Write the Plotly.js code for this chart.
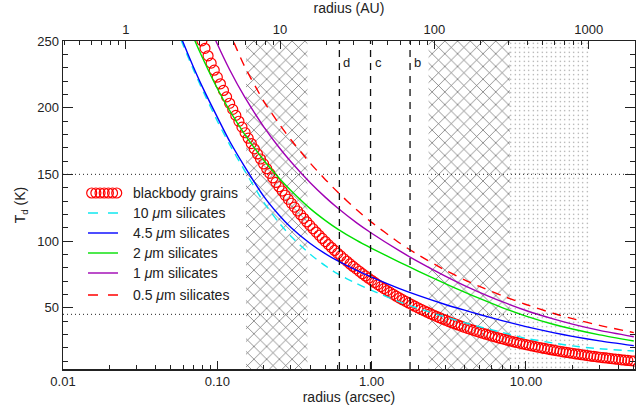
<!DOCTYPE html>
<html><head><meta charset="utf-8">
<script src="https://cdn.plot.ly/plotly-3.0.1.min.js"></script>
<style>html,body{margin:0;padding:0;background:#fff}#chart{width:636px;height:414px}</style>
</head><body><div id="chart"></div>
<script>
// ---- data ----
const radius   = [0.05,0.06,0.07,0.08,0.1,0.12,0.15,0.2,0.25,0.3,0.4,0.5,0.6,0.8,1,1.5,2,3,4,5,7,10,15,20,30,50];
const sil10um  = [270,247,228.5,213.5,190,172.5,153,129,114,103.5,90,81.5,75.5,68,63,54.5,49.5,43,38.8,35.7,31.5,27,23.5,21.3,19.2,17.5];
const sil4p5um = [272.8,249,230.5,215.6,192.9,175,156,133.5,119.7,110.1,98.1,90.5,85.2,77.9,72.9,64.5,59.2,52.4,48.1,44.9,40.3,35.8,31.3,28.5,25.1,21.5];
const sil2um   = [296.4,272,252.8,237.6,214.4,197.9,180.2,160.6,147.5,137.9,124.3,115.5,109.1,100.4,94.5,84.4,77.4,68,61.7,56.9,50.1,43.7,37.6,34,29.6,25];
const sil1um   = [345.5,315,292,273.9,247.7,228.6,208.2,185.6,170.5,159.4,143.7,132.9,124.9,113.6,105.8,92.9,84.5,73.6,66.5,61.5,54.5,47.9,41.6,37.7,33,28.2];
const sil0p5um = [397.2,362.6,335.7,314,281,256.6,231.1,204.8,188.2,175.9,158.4,146.2,136.9,123.4,114,98.9,89.6,78.1,70.9,65.9,59,52.4,45.8,41.8,36.7,31.3];

const bbRadius = [0.07586,0.07943,0.08318,0.08710,0.09120,0.09550,0.1,0.1047,0.1096,0.1148,0.1202,0.1259,0.1318,0.1380,0.1445,0.1514,0.1585,0.1660,0.1738,0.1820,0.1905,0.1995,0.2089,0.2188,0.2291,0.2399,0.2512,0.2630,0.2754,0.2884,0.3020,0.3162,0.3311,0.3467,0.3631,0.3802,0.3981,0.4169,0.4365,0.4571,0.4786,0.5012,0.5248,0.5495,0.5754,0.6026,0.6310,0.6607,0.6918,0.7244,0.7586,0.7943,0.8318,0.8710,0.9120,0.9550,
 1,1.047,1.096,1.148,1.202,1.259,1.318,1.380,1.445,1.514,1.585,1.660,1.738,1.820,1.905,1.995,2.089,2.188,2.291,2.399,2.512,2.630,2.754,2.884,3.020,3.162,3.311,3.467,3.631,3.802,3.981,4.169,4.365,4.571,4.786,5.012,5.248,5.495,5.754,6.026,6.310,6.607,6.918,7.244,7.586,7.943,8.318,8.710,9.120,9.550,
 10,10.47,10.96,11.48,12.02,12.59,13.18,13.80,14.45,15.14,15.85,16.60,17.38,18.20,19.05,19.95,20.89,21.88,22.91,23.99,25.12,26.30,27.54,28.84,30.20,31.62,33.11,34.67,36.31,38.02,39.81,41.69,43.65,45.71,47.86,50.12];
const bbTemp = [256.0,250.1,244.5,238.9,233.4,228.1,222.9,217.9,212.9,208.1,203.3,198.7,194.2,189.8,185.4,181.2,177.1,173.1,169.1,165.3,161.5,157.8,154.2,150.7,147.3,143.9,140.7,137.5,134.3,131.3,128.3,125.4,122.5,119.7,117.0,114.3,111.7,109.2,106.7,104.3,101.9,99.6,97.3,95.1,92.9,90.8,88.8,86.7,84.8,82.8,80.9,79.1,77.3,75.5,73.8,72.1,
 70.5,68.9,67.3,65.8,64.3,62.8,61.4,60.0,58.6,57.3,56.0,54.7,53.5,52.3,51.1,49.9,48.8,47.7,46.6,45.5,44.5,43.5,42.5,41.5,40.6,39.6,38.7,37.9,37.0,36.2,35.3,34.5,33.7,33.0,32.2,31.5,30.8,30.1,29.4,28.7,28.1,27.4,26.8,26.2,25.6,25.0,24.4,23.9,23.3,22.8,
 22.3,21.8,21.3,20.8,20.3,19.9,19.4,19.0,18.5,18.1,17.7,17.3,16.9,16.5,16.2,15.8,15.4,15.1,14.7,14.4,14.1,13.7,13.4,13.1,12.8,12.5,12.3,12.0,11.7,11.4,11.2,10.9,10.7,10.4,10.2,10.0];

const auPerArcsec = 39.2;
const xRangeArcsec = [0.01, 50.9];
const tRange = [4, 250];
const hatchZones = [[0.1534, 0.384], [2.338, 7.89]];
const dotZone = [7.89, 26.0];
const ringRadii = [0.618, 0.984, 1.774];
const ringLabels = ['d', 'c', 'b'];
const tLevels = [150, 45];

const legendNames = ['blackbody grains', '10 <i>μ</i>m silicates', '4.5 <i>μ</i>m silicates', '2 <i>μ</i>m silicates', '1 <i>μ</i>m silicates', '0.5 <i>μ</i>m silicates'];
const colors = ['#ff0000', '#10e8f0', '#0000ff', '#00e000', '#a000b4', '#ff0000'];
const dashes = [null, '8px,6px', 'solid', 'solid', 'solid', '9px,7px'];

// ---- traces ----
function zone(b, pat) {
  return {x: [b[0], b[1], b[1], b[0], b[0]], y: [tRange[0], tRange[0], tRange[1], tRange[1], tRange[0]],
    mode: 'lines', line: {width: 0, color: 'rgba(0,0,0,0)'}, fill: 'toself', fillcolor: 'rgba(0,0,0,0)',
    fillpattern: pat, hoverinfo: 'skip', showlegend: false};
}
const xPat = {shape: 'x', fgcolor: '#5a5a5a', bgcolor: 'white', size: 9, solidity: 0.14};
const dPat = {shape: '.', fgcolor: '#888', bgcolor: 'white', size: 4.5, solidity: 0.06};

const traces = [
  zone(hatchZones[0], xPat), zone(hatchZones[1], xPat), zone(dotZone, dPat),
  {x: bbRadius, y: bbTemp, mode: 'markers', marker: {symbol: 'circle-open', size: 10, color: colors[0], line: {width: 1.2}}, cliponaxis: true},
];
const series = [sil10um, sil4p5um, sil2um, sil1um, sil0p5um];
series.forEach((s, i) => {
  traces.push({x: radius, y: s, mode: 'lines', line: {color: colors[i + 1], width: 1.4, dash: dashes[i + 1], shape: 'spline', smoothing: 0.6}});
});
traces.push({x: [], y: [], xaxis: 'x2', yaxis: 'y', showlegend: false});

// ---- shapes & annotations ----
const shapes = [];
const annotations = [];
ringRadii.forEach((r, i) => {
  shapes.push({type: 'line', xref: 'x', yref: 'y', x0: r, x1: r, y0: tRange[0], y1: tRange[1], line: {color: '#111', width: 1.3, dash: '7px,6px'}});
  annotations.push({xref: 'x', yref: 'y', x: Math.log10(r), y: 234, text: ringLabels[i], showarrow: false, xanchor: 'left', xshift: 2, font: {size: 13, color: '#222'}});
});
tLevels.forEach(t => {
  shapes.push({type: 'line', xref: 'paper', yref: 'y', x0: 0, x1: 1, y0: t, y1: t, line: {color: '#222', width: 1, dash: '1px,3px'}});
});

// custom legend (pixel offsets from the plot's top-left corner)
const legRows = [152, 172, 192, 212, 232, 254];
legendNames.forEach((name, i) => {
  annotations.push({xref: 'paper', yref: 'paper', x: 0, y: 1, xanchor: 'left', yanchor: 'middle', xshift: 68, yshift: -legRows[i], text: name, showarrow: false, font: {size: 14, color: '#222'}});
  if (i === 0) {
    for (let k = 0; k < 7; k++) {
      const cx = 28.7 + k * 4.17;
      shapes.push({type: 'circle', xref: 'paper', yref: 'paper', xsizemode: 'pixel', ysizemode: 'pixel', xanchor: 0, yanchor: 1,
        x0: cx - 5, x1: cx + 5, y0: -legRows[i] - 5, y1: -legRows[i] + 5, line: {color: colors[0], width: 1.2}});
    }
  } else {
    shapes.push({type: 'line', xref: 'paper', yref: 'paper', xsizemode: 'pixel', ysizemode: 'pixel', xanchor: 0, yanchor: 1,
      x0: 25, x1: 55, y0: -legRows[i], y1: -legRows[i], line: {color: colors[i], width: 1.4, dash: (dashes[i] === 'solid' ? 'solid' : '10px,10px')}});
  }
});

const lr = [Math.log10(xRangeArcsec[0]), Math.log10(xRangeArcsec[1])];
const axCol = '#222';
const layout = {
  width: 636, height: 414, margin: {l: 63, r: 1, t: 41, b: 45}, showlegend: false,
  paper_bgcolor: 'white', plot_bgcolor: 'white',
  font: {family: '"Liberation Sans", Arial, sans-serif', size: 13, color: axCol},
  xaxis: {type: 'log', range: lr, tickmode: 'linear', tick0: 0, dtick: 1, tickformat: '.2f',
    ticks: 'inside', ticklen: 8, tickwidth: 1, tickcolor: axCol, showline: true, linecolor: axCol, linewidth: 1.5,
    showgrid: false, zeroline: false,
    minor: {ticks: 'inside', ticklen: 4, tickcolor: axCol, dtick: 'D1', showgrid: false},
    title: {text: 'radius (arcsec)', standoff: 4, font: {size: 14}}},
  xaxis2: {type: 'log', overlaying: 'x', side: 'top', anchor: 'y',
    range: [lr[0] + Math.log10(auPerArcsec), lr[1] + Math.log10(auPerArcsec)],
    tickmode: 'linear', tick0: 0, dtick: 1,
    ticks: 'inside', ticklen: 8, tickwidth: 1, tickcolor: axCol, showline: true, linecolor: axCol, linewidth: 1.5,
    showgrid: false, zeroline: false,
    minor: {ticks: 'inside', ticklen: 4, tickcolor: axCol, dtick: 'D1', showgrid: false},
    title: {text: 'radius (AU)', standoff: 6, font: {size: 14}}},
  yaxis: {range: tRange, tickmode: 'linear', tick0: 0, dtick: 50,
    ticks: 'inside', ticklen: 10, tickwidth: 1, tickcolor: axCol, showline: true, mirror: 'ticks', linecolor: axCol, linewidth: 1.5,
    showgrid: false, zeroline: false,
    minor: {ticks: 'inside', ticklen: 5, tickcolor: axCol, dtick: 10, tick0: 0, showgrid: false},
    title: {text: 'T<sub>d</sub> (K)', standoff: 8, font: {size: 14}}},
  shapes: shapes, annotations: annotations
};
Plotly.newPlot('chart', traces, layout, {staticPlot: true, displayModeBar: false});
</script></body></html>
